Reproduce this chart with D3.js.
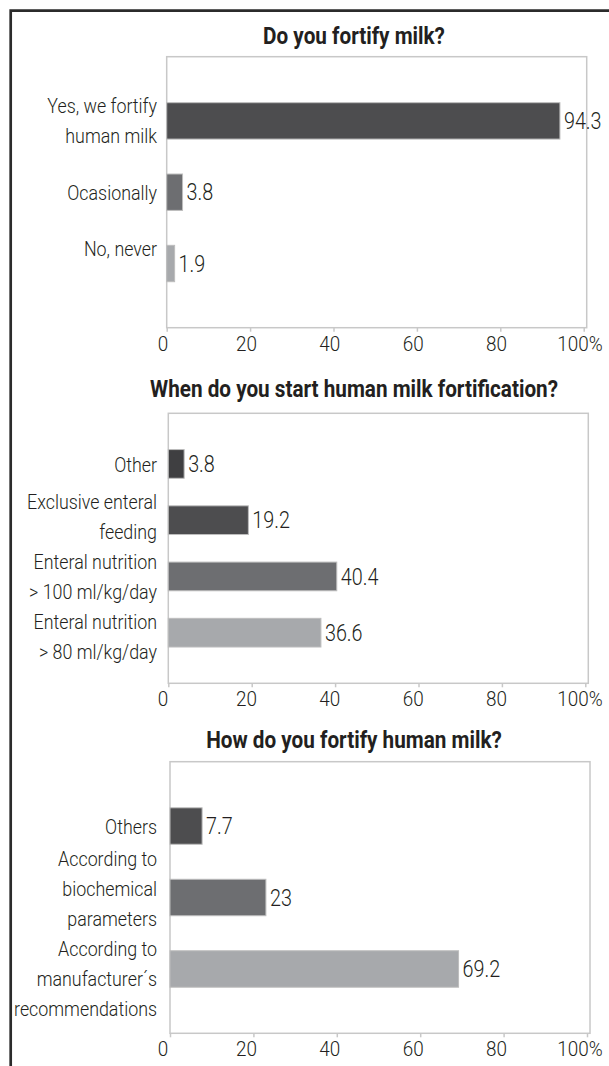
<!DOCTYPE html>
<html>
<head>
<meta charset="utf-8">
<script src="https://cdn.jsdelivr.net/npm/d3@7"></script>
<style>
  body { margin: 0; background: #fff; }
  svg text { font-family: "Roboto", "Liberation Sans", sans-serif; fill: #231f20; }
</style>
</head>
<body>
<div id="chart-area"></div>
<script>
// DATA
var fortifyCats = ["Yes, we fortify\nhuman milk", "Ocasionally", "No, never\n"];
var fortifyVals = [94.3, 3.8, 1.9];

var startCats = ["Other", "Exclusive enteral\nfeeding", "Enteral nutrition\n> 100 ml/kg/day", "Enteral nutrition\n> 80 ml/kg/day"];
var startVals = [3.8, 19.2, 40.4, 36.6];

var howCats = ["Others", "According to\nbiochemical\nparameters", "According to\nmanufacturer´s\nrecommendations"];
var howVals = [7.7, 23, 69.2];

var titles = ["Do you fortify milk?", "When do you start human milk fortification?", "How do you fortify human milk?"];
var xTicks = [0, 20, 40, 60, 80, 100];

// bar fills, top to bottom
var fills1 = ["#4d4d4f", "#6d6e71", "#a7a9ac"];
var fills2 = ["#3f3f41", "#4d4d4f", "#6d6e71", "#a7a9ac"];
var fills3 = ["#4d4d4f", "#6d6e71", "#a7a9ac"];

var width = 609;
var height = 1066;

var svg = d3.select("#chart-area")
    .append("svg")
    .attr("width", width)
    .attr("height", height);

// outer frame (runs off right/bottom edge)
svg.append("path")
    .attr("d", "M10.7," + height + " V10.7 H" + width)
    .attr("fill", "none")
    .attr("stroke", "#2b2b2b")
    .attr("stroke-width", 2.7);

// text squeezed horizontally around its anchor point (condensed look)
function squeezedText(parent, tx, ty, str, anchor, size, sx, weight) {
    return parent.append("text")
        .attr("transform", "translate(" + tx + "," + ty + ") scale(" + sx + ",1)")
        .attr("text-anchor", anchor)
        .attr("font-size", size)
        .attr("font-weight", weight || 300)
        .text(str);
}

var panels = [
    { cats: fortifyCats, vals: fortifyVals, fills: fills1, top: 56.7, bottom: 327.7, left: 166.7, titleY: 43.5 },
    { cats: startCats, vals: startVals, fills: fills2, top: 413.3, bottom: 683.3, left: 168.3, titleY: 396.7 },
    { cats: howCats, vals: howVals, fills: fills3, top: 761.7, bottom: 1033.3, left: 170, titleY: 748 }
];

var lineH = 30;
var labelX = 157;

panels.forEach(function(p, k) {
    var g = svg.append("g");

    var x = d3.scaleLinear().domain([0, 100]).range([p.left, p.left + 417]);
    var y = d3.scaleBand()
        .domain(p.cats)
        .range([p.top, p.bottom])
        .paddingInner(0.49)
        .paddingOuter(0.645);

    // title
    squeezedText(g, 354, p.titleY, titles[k], "middle", "23px", 0.9, 700);

    // plot box
    g.append("rect")
        .attr("x", p.left)
        .attr("y", p.top)
        .attr("width", x(100) - p.left + 3)
        .attr("height", p.bottom - p.top)
        .attr("fill", "none")
        .attr("stroke", "#c8c8c8")
        .attr("stroke-width", 1.5);

    // axis
    var axis = d3.axisBottom(x)
        .tickValues(xTicks)
        .tickSize(4)
        .tickFormat(function(d) { return d === 100 ? "100%" : d; });

    var ax = g.append("g")
        .attr("transform", "translate(0," + p.bottom + ")")
        .call(axis);
    ax.select(".domain").remove();
    ax.selectAll(".tick line").attr("stroke", "#c8c8c8").attr("stroke-width", 1.5);
    ax.selectAll(".tick text")
        .attr("font-size", "21px")
        .attr("font-family", null)
        .attr("font-weight", 300)
        .attr("fill", "#231f20")
        .attr("y", 8)
        .attr("transform", "translate(" + (162.5 - p.left) + ",0) scale(0.9,1)");

    // bars
    g.selectAll("rect.bar")
        .data(p.vals)
        .enter()
        .append("rect")
        .attr("class", "bar")
        .attr("x", x(0))
        .attr("y", function(d, i) { return y(p.cats[i]); })
        .attr("width", function(d) { return x(d) - x(0); })
        .attr("height", y.bandwidth())
        .attr("fill", function(d, i) { return p.fills[i]; })
        .attr("stroke", "#bdbdbd")
        .attr("stroke-width", 1);

    // value labels
    p.vals.forEach(function(d, i) {
        squeezedText(g, x(d) + 4, y(p.cats[i]) + y.bandwidth() / 2, d, "start", "23px", 0.86)
            .attr("dy", "0.36em");
    });

    // category labels: centre each block on its band, then push overlapping blocks apart
    var blocks = p.cats.map(function(c) {
        var lines = c.split("\n");
        return { lines: lines, h: lines.length * lineH, c: y(c) + y.bandwidth() / 2 };
    });
    for (var it = 0; it < 60; it++) {
        for (var i = 1; i < blocks.length; i++) {
            var need = (blocks[i - 1].h + blocks[i].h) / 2;
            var o = need - (blocks[i].c - blocks[i - 1].c);
            if (o > 0) {
                blocks[i - 1].c -= o / 2;
                blocks[i].c += o / 2;
            }
        }
    }
    blocks.forEach(function(b) {
        var y0 = b.c - b.h / 2 + lineH / 2;
        b.lines.forEach(function(line, j) {
            if (!line) return;
            squeezedText(g, labelX, y0 + j * lineH, line, "end", "21px", 0.85)
                .attr("dy", "0.36em");
        });
    });
});
</script>
</body>
</html>
